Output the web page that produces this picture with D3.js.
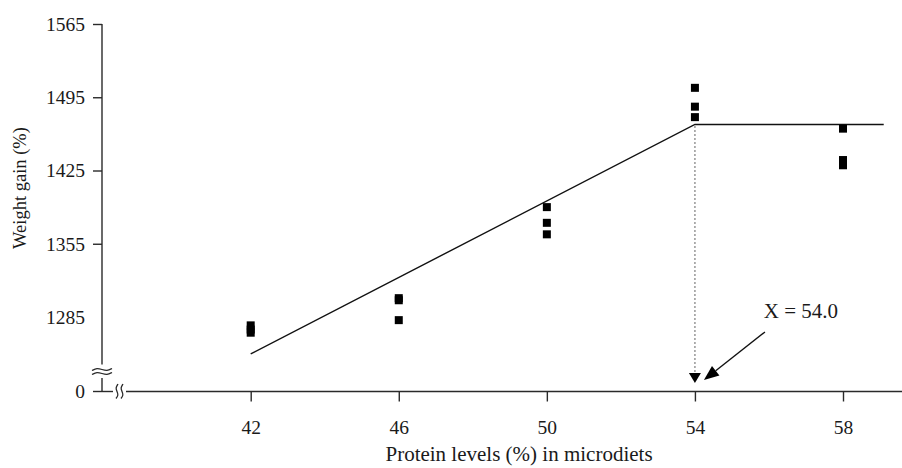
<!DOCTYPE html>
<html>
<head>
<meta charset="utf-8">
<script src="https://cdn.jsdelivr.net/npm/d3@7"></script>
<style>
  body { margin: 0; background: #fff; }
  svg text { font-family: "Liberation Serif", "DejaVu Serif", serif; fill: #1a1a1a; }
</style>
</head>
<body>
<script>
// protein levels and weight gain replicates
var proteinLevels = [42, 46, 50, 54, 58];
var gain42 = [1277, 1273, 1270];
var gain46 = [1303, 1301, 1282];
var gain50 = [1390, 1375, 1364];
var gain54 = [1504, 1486, 1476];
var gain58 = [1465, 1435, 1430];

// broken-line fit
var fitX = [42, 54, 59.1];
var fitY = [1249.7, 1469, 1469];
var breakpoint = 54.0;

var yTicks = [1285, 1355, 1425, 1495, 1565];

const w = 902;
const h = 468;

var xScale = d3.scaleLinear()
  .domain([42, 58])
  .range([250.7, 843]);

var yScale = d3.scaleLinear()
  .domain([1285, 1565])
  .range([317, 24]);

const axisX = 102;   // y axis position
const axisY = 391.5; // x axis position (value 0 after the break)

var svg = d3.select('body')
  .append('svg')
  .attr('width', w)
  .attr('height', h);

var ink = '#2a2a2a';

// ---- y axis ----
var yAxis = d3.axisLeft(yScale)
  .tickValues(yTicks)
  .tickSize(9)
  .tickPadding(8)
  .tickFormat(d3.format('d'));

var gy = svg.append('g')
  .attr('transform', 'translate(' + axisX + ',0)')
  .call(yAxis);
gy.select('.domain').remove();
gy.selectAll('.tick line').attr('stroke', ink).attr('stroke-width', 1.4);
gy.selectAll('.tick').filter(d => d === 1285).select('line').remove();
gy.selectAll('.tick text').style('font-size', '19.5px').attr('fill', '#1a1a1a');

svg.append('line')
  .attr('x1', axisX).attr('x2', axisX)
  .attr('y1', yScale(1565)).attr('y2', 364.5)
  .attr('stroke', ink).attr('stroke-width', 1.4);
svg.append('line')
  .attr('x1', axisX).attr('x2', axisX)
  .attr('y1', 378).attr('y2', axisY)
  .attr('stroke', ink).attr('stroke-width', 1.4);

// zero tick below the break
svg.append('line')
  .attr('x1', axisX - 9).attr('x2', axisX)
  .attr('y1', axisY).attr('y2', axisY)
  .attr('stroke', ink).attr('stroke-width', 1.4);
svg.append('text')
  .attr('x', axisX - 17).attr('y', axisY)
  .attr('dy', '0.32em')
  .attr('text-anchor', 'end')
  .style('font-size', '19.5px')
  .text('0');

// break marks on the y axis
var wave = d3.line().curve(d3.curveBasis);
[369.5, 373.5].forEach(function(yy) {
  svg.append('path')
    .attr('d', wave([[92, yy + 1], [97, yy - 1.5], [102, yy], [107, yy + 1.5], [112, yy - 1]]))
    .attr('fill', 'none').attr('stroke', ink).attr('stroke-width', 1.3);
});

// ---- x axis ----
var xAxis = d3.axisBottom(xScale)
  .tickValues(proteinLevels)
  .tickSize(10)
  .tickPadding(19)
  .tickFormat(d3.format('d'));

var gx = svg.append('g')
  .attr('transform', 'translate(0,' + axisY + ')')
  .call(xAxis);
gx.select('.domain').remove();
gx.selectAll('.tick line').attr('stroke', ink).attr('stroke-width', 1.4);
gx.selectAll('.tick text').style('font-size', '19.5px').attr('fill', '#1a1a1a');

svg.append('line')
  .attr('x1', axisX).attr('x2', 113)
  .attr('y1', axisY).attr('y2', axisY)
  .attr('stroke', ink).attr('stroke-width', 1.4);
svg.append('line')
  .attr('x1', 126).attr('x2', w)
  .attr('y1', axisY).attr('y2', axisY)
  .attr('stroke', ink).attr('stroke-width', 1.4);

// break marks on the x axis
[117, 122].forEach(function(xx) {
  svg.append('path')
    .attr('d', wave([[xx + 1, 384], [xx - 1.5, 388], [xx, 391.5], [xx + 1.5, 395], [xx - 1, 398.5]]))
    .attr('fill', 'none').attr('stroke', ink).attr('stroke-width', 1.3);
});

// axis titles
svg.append('text')
  .attr('text-anchor', 'middle')
  .attr('transform', 'translate(519,461)')
  .style('font-size', '21px')
  .text('Protein levels (%) in microdiets');

svg.append('text')
  .attr('text-anchor', 'middle')
  .attr('transform', 'translate(26,188)rotate(-90)')
  .style('font-size', '18.5px')
  .text('Weight gain (%)');

// ---- fitted broken line ----
var fit = fitX.map((d, i) => [d, fitY[i]]);
svg.append('path')
  .datum(fit)
  .attr('d', d3.line().x(d => xScale(d[0])).y(d => yScale(d[1])))
  .attr('fill', 'none')
  .attr('stroke', '#111')
  .attr('stroke-width', 1.4);

// ---- data points ----
var groups = [gain42, gain46, gain50, gain54, gain58];
var points = [];
groups.forEach(function(g, i) {
  g.forEach(function(v) { points.push([proteinLevels[i], v]); });
});

svg.selectAll('rect.pt')
  .data(points)
  .enter()
  .append('rect')
  .attr('class', 'pt')
  .attr('x', d => xScale(d[0]) - 4)
  .attr('y', d => yScale(d[1]) - 4)
  .attr('width', 8)
  .attr('height', 8)
  .attr('fill', '#000');

// ---- breakpoint marker ----
var bx = xScale(breakpoint);
var by = yScale(fitY[1]);
svg.append('line')
  .attr('x1', bx).attr('x2', bx)
  .attr('y1', by + 2).attr('y2', 373)
  .attr('stroke', '#111')
  .attr('stroke-width', 1.3)
  .attr('stroke-dasharray', '1,3');
svg.append('path')
  .attr('d', 'M' + (bx - 6) + ',373L' + (bx + 6) + ',373L' + bx + ',383Z')
  .attr('fill', '#000');

// pointer arrow and label
var ax1 = bx + 70, ay1 = 332, ax2 = bx + 9, ay2 = 380;
var ang = Math.atan2(ay2 - ay1, ax2 - ax1);
var hl = 15, hw = 6;
var bxh = ax2 - hl * Math.cos(ang), byh = ay2 - hl * Math.sin(ang);
svg.append('line')
  .attr('x1', ax1).attr('y1', ay1)
  .attr('x2', bxh).attr('y2', byh)
  .attr('stroke', '#111').attr('stroke-width', 1.4);
svg.append('path')
  .attr('d', 'M' + ax2 + ',' + ay2 +
    'L' + (bxh + hw * Math.sin(ang)) + ',' + (byh - hw * Math.cos(ang)) +
    'L' + (bxh - hw * Math.sin(ang)) + ',' + (byh + hw * Math.cos(ang)) + 'Z')
  .attr('fill', '#000');

svg.append('text')
  .attr('x', 801).attr('y', 311)
  .attr('dy', '0.35em')
  .attr('text-anchor', 'middle')
  .style('font-size', '21px')
  .text('X = ' + breakpoint.toFixed(1));
</script>
</body>
</html>
